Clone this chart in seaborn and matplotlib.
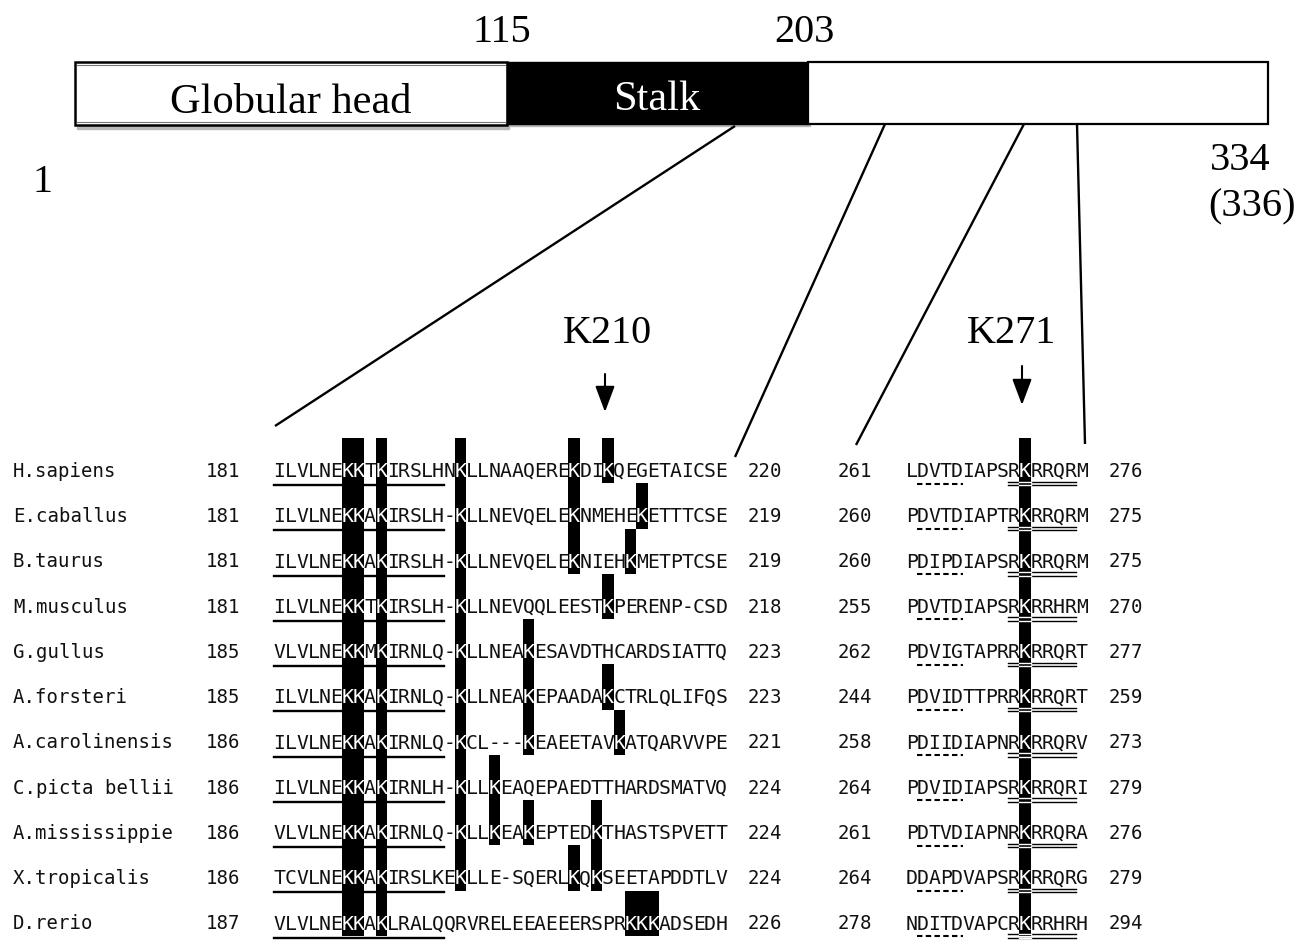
import numpy as np
import matplotlib.pyplot as plt
import seaborn as sns
from matplotlib.colors import ListedColormap
from matplotlib.patches import Rectangle

# --- datos ---
species = ['H.sapiens', 'E.caballus', 'B.taurus', 'M.musculus', 'G.gullus',
           'A.forsteri', 'A.carolinensis', 'C.picta bellii', 'A.mississippie',
           'X.tropicalis', 'D.rerio']
start_left = [181, 181, 181, 181, 185, 185, 186, 186, 186, 186, 187]
end_left = [220, 219, 219, 218, 223, 223, 221, 224, 224, 224, 226]
start_right = [261, 260, 260, 255, 262, 244, 258, 264, 261, 264, 278]
end_right = [276, 275, 275, 270, 277, 259, 273, 279, 276, 279, 294]

seq_left = [
    'ILVLNEKKTKIRSLHNKLLNAAQEREKDIKQEGETAICSE',
    'ILVLNEKKAKIRSLH-KLLNEVQELEKNMEHEKETTTCSE',
    'ILVLNEKKAKIRSLH-KLLNEVQELEKNIEHKMETPTCSE',
    'ILVLNEKKTKIRSLH-KLLNEVQQLEESTKPERENP-CSD',
    'VLVLNEKKMKIRNLQ-KLLNEAKESAVDTHCARDSIATTQ',
    'ILVLNEKKAKIRNLQ-KLLNEAKEPAADAKCTRLQLIFQS',
    'ILVLNEKKAKIRNLQ-KCL---KEAEETAVKATQARVVPE',
    'ILVLNEKKAKIRNLH-KLLKEAQEPAEDTTHARDSMATVQ',
    'VLVLNEKKAKIRNLQ-KLLKEAKEPTEDKTHASTSPVETT',
    'TCVLNEKKAKIRSLKEKLLE-SQERLKQKSEETAPDDTLV',
    'VLVLNEKKAKLRALQQRVRELEEAEEERSPRKKKADSEDH',
]
seq_right = [
    'LDVTDIAPSRKRRQRM', 'PDVTDIAPTRKRRQRM', 'PDIPDIAPSRKRRQRM',
    'PDVTDIAPSRKRRHRM', 'PDVIGTAPRRKRRQRT', 'PDVIDTTPRRKRRQRT',
    'PDIIDIAPNRKRRQRV', 'PDVIDIAPSRKRRQRI', 'PDTVDIAPNRKRRQRA',
    'DDAPDVAPSRKRRQRG', 'NDITDVAPCRKRRHRH',
]
# lisinas resaltadas (columna dentro del bloque)
hl_left = [[6, 7, 9, 16, 26, 29], [6, 7, 9, 16, 26, 32], [6, 7, 9, 16, 26, 31],
           [6, 7, 9, 16, 29], [6, 7, 9, 16, 22], [6, 7, 9, 16, 22, 29],
           [6, 7, 9, 16, 22, 30], [6, 7, 9, 16, 19], [6, 7, 9, 16, 19, 22, 28],
           [6, 7, 9, 16, 26, 28], [6, 7, 9, 31, 32, 33]]
hl_right = [[10]] * 11

underline_left = (0, 15)
dashed_right = (1, 5)
double_right = (9, 15)

domain_labels = ['Globular head', 'Stalk', '']
domain_bounds = ['1', '115', '203', '334', '(336)']
sites = ['K210', 'K271']

# --- layout (pixeles) ---
W, H = 1312, 945
PITCH = 11.33
ROW_H = 45.25
GRID_TOP = 439
LEFT_X0 = 273.7
RIGHT_X0 = 906
MONO = 'DejaVu Sans Mono'
SERIF = 'Liberation Serif'
TXT = '#111111'

fig = plt.figure(figsize=(W / 100, H / 100), dpi=100)
ax = fig.add_axes([0, 0, 1, 1])
ax.set_xlim(0, W)
ax.set_ylim(H, 0)
ax.axis('off')

# --- esquema de dominios ---
box_x = [75, 507, 808, 1268]
ax.add_patch(Rectangle((77, 66), 432, 64, color='#b8b8b8', zorder=1))
ax.add_patch(Rectangle((box_x[0], 63), box_x[1] - box_x[0], 63, facecolor='white',
                       edgecolor='black', lw=1.8, zorder=2))
ax.plot([box_x[0] + 2, box_x[1] - 2], [66, 66], color='#777777', lw=0.8, zorder=3)
ax.plot([box_x[0] + 2, box_x[1] - 2], [123, 123], color='#777777', lw=0.8, zorder=3)
ax.add_patch(Rectangle((box_x[1] + 2, 65), box_x[2] - box_x[1], 62, color='#b8b8b8', zorder=1))
ax.add_patch(Rectangle((box_x[1], 63), box_x[2] - box_x[1], 61.5, color='black', zorder=2))
ax.add_patch(Rectangle((box_x[2], 63), box_x[3] - box_x[2], 61.5, facecolor='white',
                       edgecolor='black', lw=1.6, zorder=2))
ax.text(291, 113, domain_labels[0], ha='center', va='baseline', fontsize=30.5,
        family=SERIF, color='black', zorder=3)
ax.text(657, 110, domain_labels[1], ha='center', va='baseline', fontsize=30.5,
        family=SERIF, color='white', zorder=3)

ax.text(43, 192, domain_bounds[0], ha='center', va='baseline', fontsize=29, family=SERIF)
ax.text(502, 42, domain_bounds[1], ha='center', va='baseline', fontsize=29, family=SERIF)
ax.text(804, 42, domain_bounds[2], ha='center', va='baseline', fontsize=29, family=SERIF)
ax.text(1210, 170, domain_bounds[3], ha='left', va='baseline', fontsize=29, family=SERIF)
ax.text(1208, 216, domain_bounds[4], ha='left', va='baseline', fontsize=29, family=SERIF)

# lineas de zoom
for (x0, y0), (x1, y1) in [((735, 127), (275, 427)), ((885, 125), (735, 458)),
                           ((1024, 125), (856, 446)), ((1077, 125), (1085, 445))]:
    ax.plot([x0, x1], [y0, y1], color='black', lw=1.7, solid_capstyle='butt')

# sitios K210 / K271
for label, xl, xa, ya0, ya1 in [(sites[0], 607, 605, 375, 413), (sites[1], 1011, 1022, 367, 406)]:
    ax.text(xl, 343, label, ha='center', va='baseline', fontsize=29, family=SERIF)
    ax.annotate('', xy=(xa, ya1), xytext=(xa, ya0),
                arrowprops=dict(arrowstyle='-|>,head_length=1.6,head_width=0.6',
                                mutation_scale=10, lw=1.5, color='black',
                                shrinkA=0, shrinkB=0))

# --- nombres y numeros ---
for i, name in enumerate(species):
    yb = GRID_TOP + ROW_H * i + 37.8
    ax.text(13, yb, name, ha='left', va='baseline', fontsize=13.7, family=MONO, color=TXT)
    ax.text(205.7, yb, str(start_left[i]), ha='left', va='baseline', fontsize=13.7, family=MONO, color=TXT)
    ax.text(748, yb, str(end_left[i]), ha='left', va='baseline', fontsize=13.7, family=MONO, color=TXT)
    ax.text(838, yb, str(start_right[i]), ha='left', va='baseline', fontsize=13.7, family=MONO, color=TXT)
    ax.text(1109, yb, str(end_right[i]), ha='left', va='baseline', fontsize=13.7, family=MONO, color=TXT)


def block(seqs, hls, x0):
    n_rows, n_cols = len(seqs), len(seqs[0])
    mat = np.zeros((n_rows, n_cols))
    for i, cols in enumerate(hls):
        mat[i, cols] = 1
    x1 = x0 + PITCH * n_cols
    y1 = GRID_TOP + ROW_H * n_rows
    bax = fig.add_axes([x0 / W, 1 - y1 / H, (x1 - x0) / W, (y1 - GRID_TOP) / H])
    sns.heatmap(mat, mask=(mat == 0), cmap=ListedColormap(['black']), vmin=0, vmax=1,
                cbar=False, xticklabels=False, yticklabels=False, linewidths=0, ax=bax)
    bax.axis('off')
    for i, s in enumerate(seqs):
        for j, ch in enumerate(s):
            col = 'white' if mat[i, j] else TXT
            bax.text(j + 0.5, i + 0.84, ch, ha='center', va='baseline', fontsize=14.2,
                     family=MONO, color=col, zorder=3)
    return bax, mat


bl, mat_l = block(seq_left, hl_left, LEFT_X0)
for i in range(len(seq_left)):
    bl.plot(underline_left, [i + 1.04] * 2, color='black', lw=1.7, zorder=0.5, clip_on=False)

br, mat_r = block(seq_right, hl_right, RIGHT_X0)
for i in range(len(seq_right)):
    br.plot(dashed_right, [i + 1.01] * 2, color='black', lw=1.5, zorder=2,
            ls=(0, (2.6, 1.6)), clip_on=False)
    for dy in (0.965, 1.04):
        br.plot(double_right, [i + dy] * 2, color='black', lw=1.0, zorder=2, clip_on=False)
        k = hl_right[i][0]
        br.plot([k, k + 1], [i + dy] * 2, color='white', lw=1.0, zorder=2.5, clip_on=False)

fig.savefig('out.png', dpi=100)
